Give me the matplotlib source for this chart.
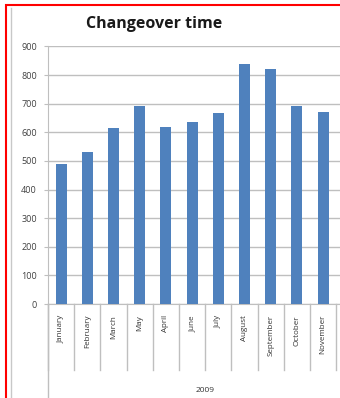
import matplotlib.pyplot as plt
import numpy as np
from matplotlib.patches import Rectangle
from matplotlib.lines import Line2D

months = ['January', 'February', 'March', 'May', 'April', 'June', 'July',
          'August', 'September', 'October', 'November']
changeover = [490, 533, 615, 693, 619, 635, 668, 839, 823, 693, 672]
year_label = '2009'
yticks = np.arange(0, 901, 100)

plt.rcParams['font.family'] = ['Open Sans', 'DejaVu Sans']

W, H = 340, 398
fig = plt.figure(figsize=(W / 100, H / 100), dpi=100)

# axes box in pixel terms of the screenshot
left, right, top, bottom = 48, 340, 46.5, 304
ax = fig.add_axes([left / W, 1 - bottom / H, (right - left) / W, (bottom - top) / H])

x = np.arange(len(months))
cat_w = 26.2
ax.bar(x, changeover, width=0.42, color='#4f81bd', zorder=3)
ax.set_xlim(-0.5, -0.5 + (right - left) / cat_w)
ax.set_ylim(0, 900)
ax.set_yticks(yticks)
ax.tick_params(axis='y', labelsize=6.5, labelcolor='#404040', length=3,
               color='#bfbfbf', pad=5)
ax.yaxis.grid(True, color='#bfbfbf', linewidth=1)
ax.set_axisbelow(True)
for s in ['top', 'right']:
    ax.spines[s].set_visible(False)
ax.spines['left'].set_color('#bfbfbf')
ax.spines['bottom'].set_color('#bfbfbf')
ax.set_xticks([])

# category labels and separators below the axis
trans = ax.get_xaxis_transform()
px = 1 / (bottom - top)
for i, m in enumerate(months):
    ax.text(i, -11 * px, m, transform=trans, rotation=90, ha='center', va='top',
            fontsize=5.8, color='#333333')
for b in np.arange(len(months) + 1) - 0.5:
    ax.add_line(Line2D([b, b], [0, -66 * px], transform=trans, color='#bfbfbf',
                       linewidth=1, clip_on=False))
ax.add_line(Line2D([-0.5, -0.5], [0, -100 * px], transform=trans, color='#bfbfbf',
                   linewidth=1, clip_on=False))
ax.text(205 / W, 1 - 390 / H, year_label, transform=fig.transFigure, ha='center',
        va='center', fontsize=6, color='#333333')

fig.text(154 / W, 1 - 24 / H, 'Changeover time', ha='center', va='center',
         fontsize=11.5, fontweight='bold', color='#1a1a1a')

# outer frames
fig.add_artist(Line2D([11 / W, 11 / W], [0, 1 - 8 / H], transform=fig.transFigure,
                      color='#c8c8c8', linewidth=1))
fig.add_artist(Rectangle((5.5 / W, -0.1), 1.2, 1 - 5.5 / H + 0.1,
                         transform=fig.transFigure, fill=False,
                         edgecolor='#ff0000', linewidth=1.5))

fig.savefig('out.png', dpi=100)
